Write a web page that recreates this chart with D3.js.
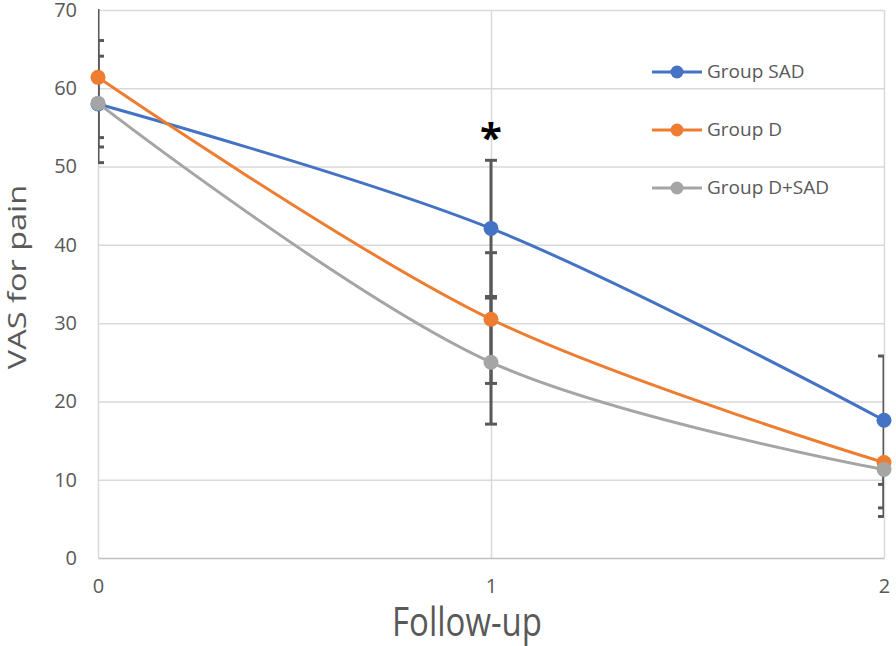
<!DOCTYPE html>
<html>
<head>
<meta charset="utf-8">
<script src="https://cdn.jsdelivr.net/npm/d3@7"></script>
<style>
  body { margin: 0; background: #fff; }
  text { font-family: "Open Sans", "Noto Sans", sans-serif; }
</style>
</head>
<body>
<script>
// follow-up points
let followUp = [0, 1, 2];
let yTicks = [0, 10, 20, 30, 40, 50, 60, 70];

// series values
let groupSAD = [58.0, 42.1, 17.6];
let groupD = [61.4, 30.5, 12.2];
let groupDSAD = [58.1, 25.0, 11.3];

// error bar ends (low, high) per point
let sadLow = [50.5, 33.4, 9.4], sadHigh = [66.1, 50.8, 25.8];
let dLow = [53.7, 22.3, 5.3], dHigh = [72, 39.0, 12.2];
let dsadLow = [52.5, 17.1, 6.4], dsadHigh = [64.1, 33.2, 11.3];

let names = ["Group SAD", "Group D", "Group D+SAD"];
let colors = ["#4472C4", "#ED7D31", "#A5A5A5"];

let w = 896, h = 646;
let pLeft = 98, pRight = 884, pTop = 10, pBottom = 558;

let x = d3.scaleLinear().domain([0, 2]).range([pLeft, pRight]);
let y = d3.scaleLinear().domain([0, 70]).range([pBottom, pTop]);

let svg = d3.select("body").append("svg").attr("width", w).attr("height", h);

svg.append("defs").append("clipPath").attr("id", "plotclip")
  .append("rect").attr("x", pLeft).attr("y", pTop - 1).attr("width", pRight - pLeft).attr("height", pBottom - pTop + 1);

// gridlines
svg.append("g").selectAll("line").data(yTicks.slice(1)).enter().append("line")
  .attr("x1", pLeft).attr("x2", pRight)
  .attr("y1", d => y(d) + 0.5).attr("y2", d => y(d) + 0.5)
  .attr("stroke", "#d9d9d9").attr("stroke-width", 1.5);
svg.append("g").selectAll("line").data(followUp).enter().append("line")
  .attr("x1", d => x(d) + 0.5).attr("x2", d => x(d) + 0.5)
  .attr("y1", pTop).attr("y2", pBottom)
  .attr("stroke", "#d9d9d9").attr("stroke-width", 1.5);

// axis
let yAxis = d3.axisLeft(y).tickValues(yTicks).tickSize(0).tickPadding(21);
let gy = svg.append("g").attr("transform", `translate(${pLeft},0)`).call(yAxis);
gy.select(".domain").remove();
gy.selectAll("text").attr("font-size", 20).attr("fill", "#595959");

let xAxis = d3.axisBottom(x).tickValues(followUp).tickSize(0).tickPadding(21).tickFormat(d3.format("d"));
let gx = svg.append("g").attr("transform", `translate(0,${pBottom})`).call(xAxis);
gx.select(".domain").attr("stroke", "#bfbfbf").attr("stroke-width", 1.5);
gx.selectAll("text").attr("font-size", 20).attr("fill", "#595959");

// axis titles (tall, narrow face in the original)
svg.append("text").attr("transform", "translate(467,636) scale(1,1.2)").attr("text-anchor", "middle")
  .attr("font-size", 33).attr("fill", "#595959").text("Follow-up");
svg.append("text").attr("transform", "translate(26,277) rotate(-90) scale(1.3,1)").attr("text-anchor", "middle")
  .attr("font-size", 25).attr("fill", "#595959").text("VAS for pain");

let series = [
  { vals: groupSAD, lo: sadLow, hi: sadHigh },
  { vals: groupD, lo: dLow, hi: dHigh },
  { vals: groupDSAD, lo: dsadLow, hi: dsadHigh }
];

// error bars, under the lines
let eb = svg.append("g").attr("clip-path", "url(#plotclip)");
series.forEach(s => {
  followUp.forEach((f, i) => {
    let g = eb.append("g").attr("stroke", "#595959").attr("stroke-width", 3);
    g.append("line").attr("x1", x(f)).attr("x2", x(f)).attr("y1", y(s.lo[i])).attr("y2", y(s.hi[i]));
    [s.lo[i], s.hi[i]].forEach(v => {
      if (v === s.vals[i]) return;
      g.append("line").attr("x1", x(f) - 6).attr("x2", x(f) + 6).attr("y1", y(v)).attr("y2", y(v));
    });
  });
});

// lines and markers
let line = d3.line().x((d, i) => x(followUp[i])).y(d => y(d)).curve(d3.curveCatmullRom.alpha(0.5));
series.forEach((s, k) => {
  svg.append("path").datum(s.vals).attr("d", line)
    .attr("fill", "none").attr("stroke", colors[k]).attr("stroke-width", 3);
  svg.append("g").selectAll("circle").data(s.vals).enter().append("circle")
    .attr("cx", (d, i) => x(followUp[i])).attr("cy", d => y(d)).attr("r", 7.5)
    .attr("fill", colors[k]);
});

// significance mark
svg.append("text").attr("x", x(1)).attr("y", 152).attr("text-anchor", "middle")
  .attr("font-size", 40).attr("font-weight", "bold").attr("fill", "#000").text("*");

// legend
let leg = svg.append("g");
names.forEach((n, k) => {
  let ly = 72 + k * 58;
  leg.append("line").attr("x1", 652).attr("x2", 702).attr("y1", ly).attr("y2", ly)
    .attr("stroke", colors[k]).attr("stroke-width", 3);
  leg.append("circle").attr("cx", 677).attr("cy", ly).attr("r", 6.5).attr("fill", colors[k]);
  leg.append("text").attr("x", 707).attr("y", ly + 6).attr("font-size", 19).attr("fill", "#595959").text(n);
});
</script>
</body>
</html>
